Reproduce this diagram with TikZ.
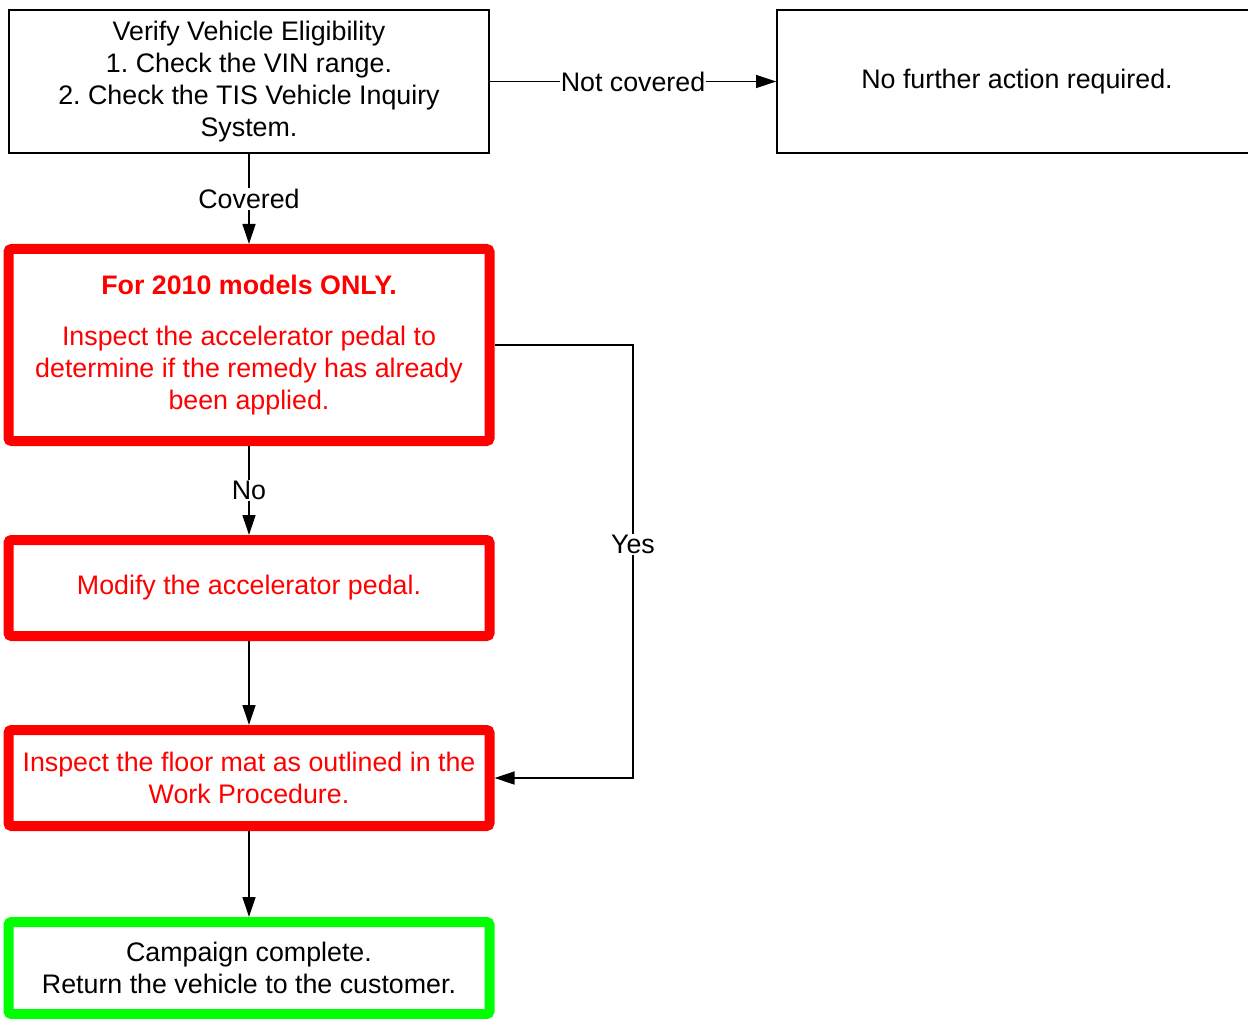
\documentclass[tikz,border=0pt]{standalone}
\usepackage{fontspec}
\setmainfont{Liberation Sans}
\usepackage{xcolor}
\usetikzlibrary{arrows.meta,positioning}
\definecolor{warnc}{HTML}{FF0000}
\definecolor{donec}{HTML}{00FF00}
\tikzset{
  ar/.style={-{Triangle[length=20pt,width=13pt]},line width=1.3pt,black},
  box/.style={draw=black,line width=1.8pt,align=center,minimum width=480pt,minimum height=143pt,inner sep=0pt},
  redbox/.style={draw=warnc,line width=10pt,rounded corners=3pt,text=warnc,align=center,minimum width=481pt,inner sep=0pt},
  greenbox/.style={draw=donec,line width=10pt,rounded corners=3pt,align=center,minimum width=481pt,inner sep=0pt},
  lbl/.style={fill=white,inner sep=1pt}
}
\frenchspacing
\begin{document}
\begin{tikzpicture}[x=1pt,y=-1pt,font=\fontsize{26.8}{32}\selectfont]
\useasboundingbox (0,0) rectangle (1248,1019);
% boxes
\node[box] (verify) at (249,81.5) {Verify Vehicle Eligibility\\1. Check the VIN range.\\2. Check the TIS Vehicle Inquiry\\System.};
\node[box] (noaction) at (1017,81.5) {No further action required.};
\node[redbox,minimum height=192pt] (pedal) at (249,345) {\textbf{For 2010 models ONLY.}\\[19pt]Inspect the accelerator pedal to\\determine if the remedy has already\\been applied.};
\node[redbox,minimum height=96pt] (modify) at (249,588) {Modify the accelerator pedal.};
\node[redbox,minimum height=96pt] (floormat) at (249,778) {Inspect the floor mat as outlined in the\\Work Procedure.};
\node[greenbox,minimum height=92pt] (done) at (249,968) {Campaign complete.\\Return the vehicle to the customer.};
\coordinate (yesx) at (633,0);
% connectors
\draw[ar] (verify) -- node[lbl]{Covered} (pedal);
\draw[ar] (verify.east) -- node[lbl]{Not covered} (noaction.west);
\draw[ar] (pedal) -- node[lbl]{No} (modify);
\draw[ar] (modify) -- (floormat);
\draw[ar] (floormat) -- (done);
\draw[ar] (pedal.east) -- (pedal.east -| yesx) |- node[lbl,pos=0.23]{Yes} (floormat.east);
\end{tikzpicture}
\end{document}
